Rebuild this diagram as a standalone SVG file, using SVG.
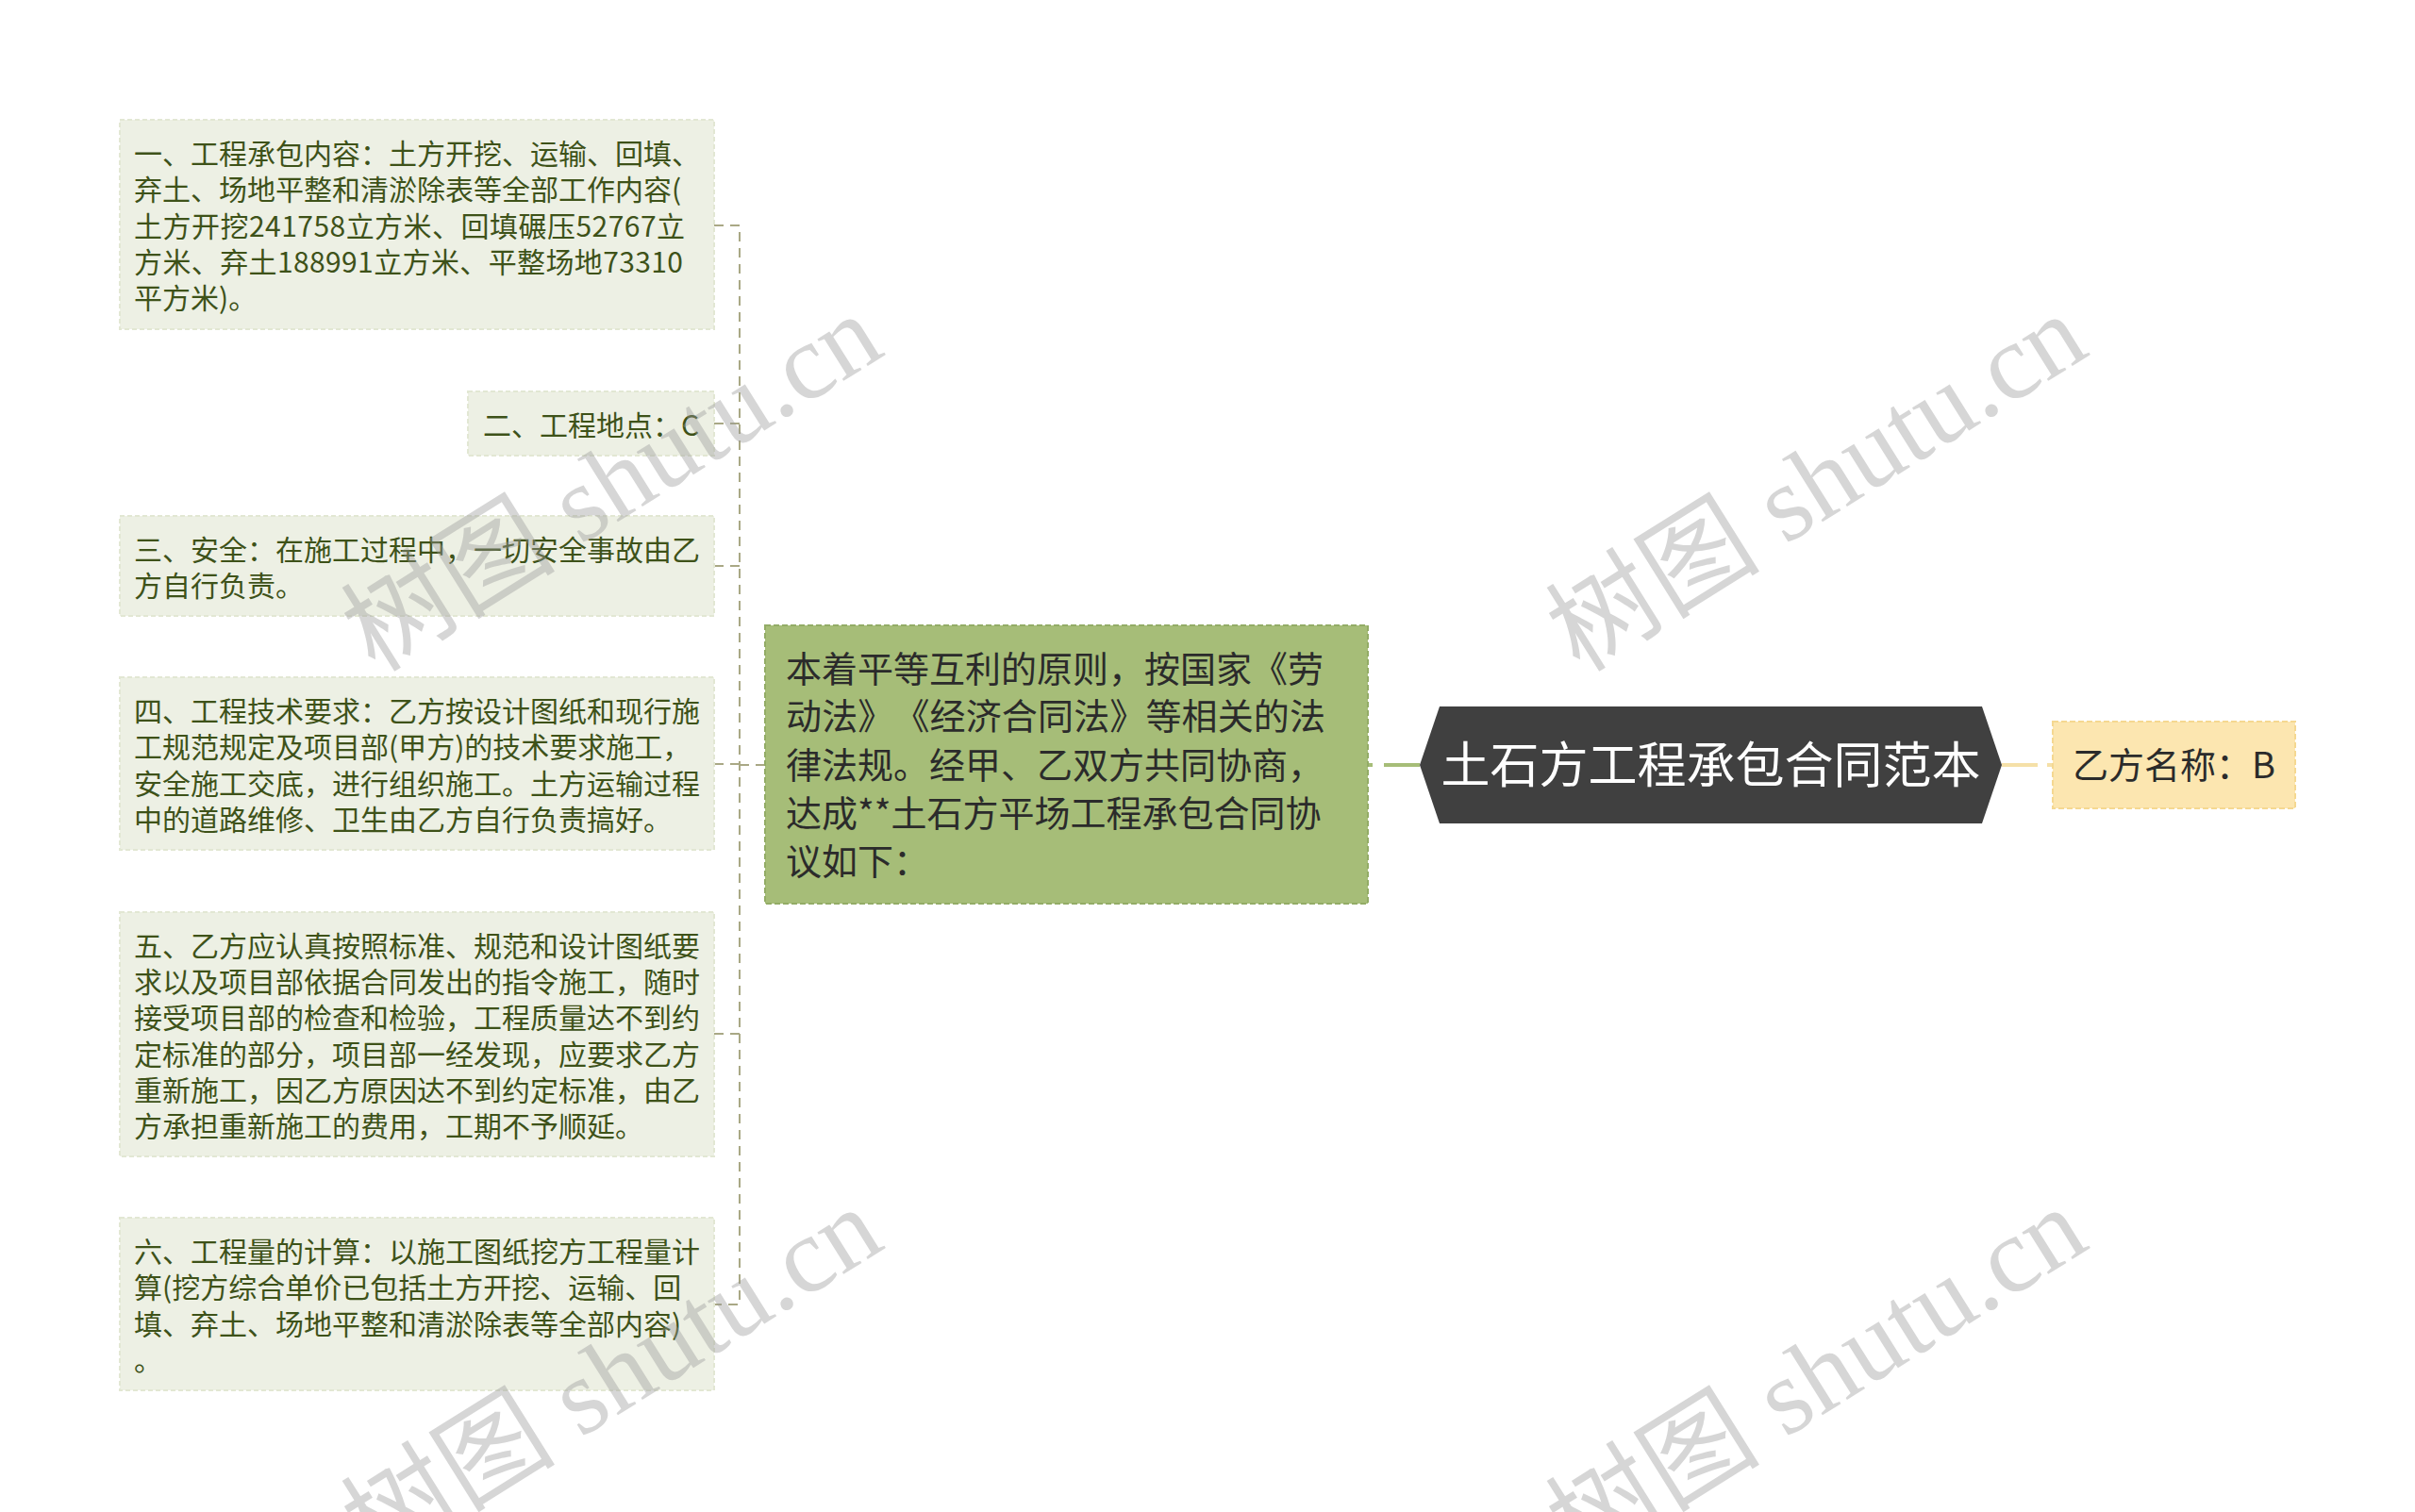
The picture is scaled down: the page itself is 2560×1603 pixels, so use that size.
<svg xmlns="http://www.w3.org/2000/svg" width="2560" height="1603" viewBox="0 0 2560 1603">
<style>
text{text-spacing-trim:space-all;font-feature-settings:"halt" 0,"palt" 0,"chws" 0}
.leaf rect{fill:#edf0e4;stroke:#e2e7d3;stroke-width:2;stroke-dasharray:5 3}
.leaf text{font-family:"Noto Sans CJK SC","Noto Sans",sans-serif;font-size:30px;fill:#3e5219}
.mid rect{fill:#a6bd78;stroke:#93ac66;stroke-width:2;stroke-dasharray:6 3}
.mid text{font-family:"Noto Sans CJK SC","Noto Sans",sans-serif;font-size:38px;fill:#2b2b2b}
.root polygon{fill:#404040}
.root text{font-family:"Noto Sans CJK SC","Noto Sans",sans-serif;font-size:52px;fill:#ffffff}
.side rect{fill:#fce6b0;stroke:#f5d891;stroke-width:2;stroke-dasharray:6 3}
.side text{font-family:"Noto Sans CJK SC","Noto Sans",sans-serif;font-size:38px;fill:#2b2b2b}
.dash{fill:none;stroke:#a9a885;stroke-width:2;stroke-dasharray:10 7}
.wm{font-family:"Liberation Serif","Noto Sans CJK SC",serif;font-size:114px;fill:#9a9a9a;opacity:0.4;text-anchor:middle}
</style>
<rect x="0" y="0" width="2560" height="1603" fill="#ffffff"/>

<g id="connectors">
  <path class="dash" d="M757,239 H784 V1383 H757"/>
  <path class="dash" d="M784,449 H757"/>
  <path class="dash" d="M784,600 H757"/>
  <path class="dash" d="M784,810 H757"/>
  <path class="dash" d="M784,1096 H757"/>
  <path class="dash" d="M811,811 H784"/>
  <path d="M1505,811 H1450" fill="none" stroke="#a6bd78" stroke-width="4" stroke-dasharray="38 12 6 10"/>
  <path d="M2122,811 H2176" fill="none" stroke="#f5e0a8" stroke-width="4" stroke-dasharray="38 10 6 10"/>
</g>

<g id="node-1" class="leaf">
  <rect x="127" y="127" width="630" height="222"/>
  <text x="142" y="174">一、工程承包内容：土方开挖、运输、回填、</text>
  <text x="142" y="212">弃土、场地平整和清淤除表等全部工作内容(</text>
  <text x="142" y="251" textLength="584" lengthAdjust="spacing">土方开挖241758立方米、回填碾压52767立</text>
  <text x="142" y="289" textLength="582" lengthAdjust="spacing">方米、弃土188991立方米、平整场地73310</text>
  <text x="142" y="327">平方米)。</text>
</g>

<g id="node-2" class="leaf">
  <rect x="496" y="415" width="261" height="68"/>
  <text x="512" y="462">二、工程地点：C</text>
</g>

<g id="node-3" class="leaf">
  <rect x="127" y="547" width="630" height="106"/>
  <text x="142" y="594">三、安全：在施工过程中，一切安全事故由乙</text>
  <text x="142" y="632">方自行负责。</text>
</g>

<g id="node-4" class="leaf">
  <rect x="127" y="718" width="630" height="183"/>
  <text x="142" y="765">四、工程技术要求：乙方按设计图纸和现行施</text>
  <text x="142" y="803">工规范规定及项目部(甲方)的技术要求施工，</text>
  <text x="142" y="842">安全施工交底，进行组织施工。土方运输过程</text>
  <text x="142" y="880">中的道路维修、卫生由乙方自行负责搞好。</text>
</g>

<g id="node-5" class="leaf">
  <rect x="127" y="967" width="630" height="259"/>
  <text x="142" y="1014">五、乙方应认真按照标准、规范和设计图纸要</text>
  <text x="142" y="1052">求以及项目部依据合同发出的指令施工，随时</text>
  <text x="142" y="1090">接受项目部的检查和检验，工程质量达不到约</text>
  <text x="142" y="1129">定标准的部分，项目部一经发现，应要求乙方</text>
  <text x="142" y="1167">重新施工，因乙方原因达不到约定标准，由乙</text>
  <text x="142" y="1205">方承担重新施工的费用，工期不予顺延。</text>
</g>

<g id="node-6" class="leaf">
  <rect x="127" y="1291" width="630" height="183"/>
  <text x="142" y="1338">六、工程量的计算：以施工图纸挖方工程量计</text>
  <text x="142" y="1376">算(挖方综合单价已包括土方开挖、运输、回</text>
  <text x="142" y="1415">填、弃土、场地平整和清淤除表等全部内容)</text>
  <text x="142" y="1453">。</text>
</g>

<g id="node-center" class="mid">
  <rect x="811" y="663" width="639" height="295"/>
  <text x="833" y="723">本着平等互利的原则，按国家《劳</text>
  <text x="833" y="773" textLength="572" lengthAdjust="spacing">动法》《经济合同法》等相关的法</text>
  <text x="833" y="825">律法规。经甲、乙双方共同协商，</text>
  <text x="833" y="876">达成**土石方平场工程承包合同协</text>
  <text x="833" y="927">议如下：</text>
</g>

<g id="node-root" class="root">
  <polygon points="1505,811 1526,749 2101,749 2122,811 2101,873 1526,873"/>
  <text x="1813.5" y="830" text-anchor="middle">土石方工程承包合同范本</text>
</g>

<g id="node-right" class="side">
  <rect x="2176" y="765" width="257" height="92"/>
  <text x="2197" y="825">乙方名称：B</text>
</g>

<g id="watermarks">
  <text class="wm" transform="rotate(-32 650 514)" x="650" y="550">树图 shutu.cn</text>
  <text class="wm" transform="rotate(-32 1927 514)" x="1927" y="550">树图 shutu.cn</text>
  <text class="wm" transform="rotate(-32 650 1461)" x="650" y="1497">树图 shutu.cn</text>
  <text class="wm" transform="rotate(-32 1927 1461)" x="1927" y="1497">树图 shutu.cn</text>
</g>
</svg>
